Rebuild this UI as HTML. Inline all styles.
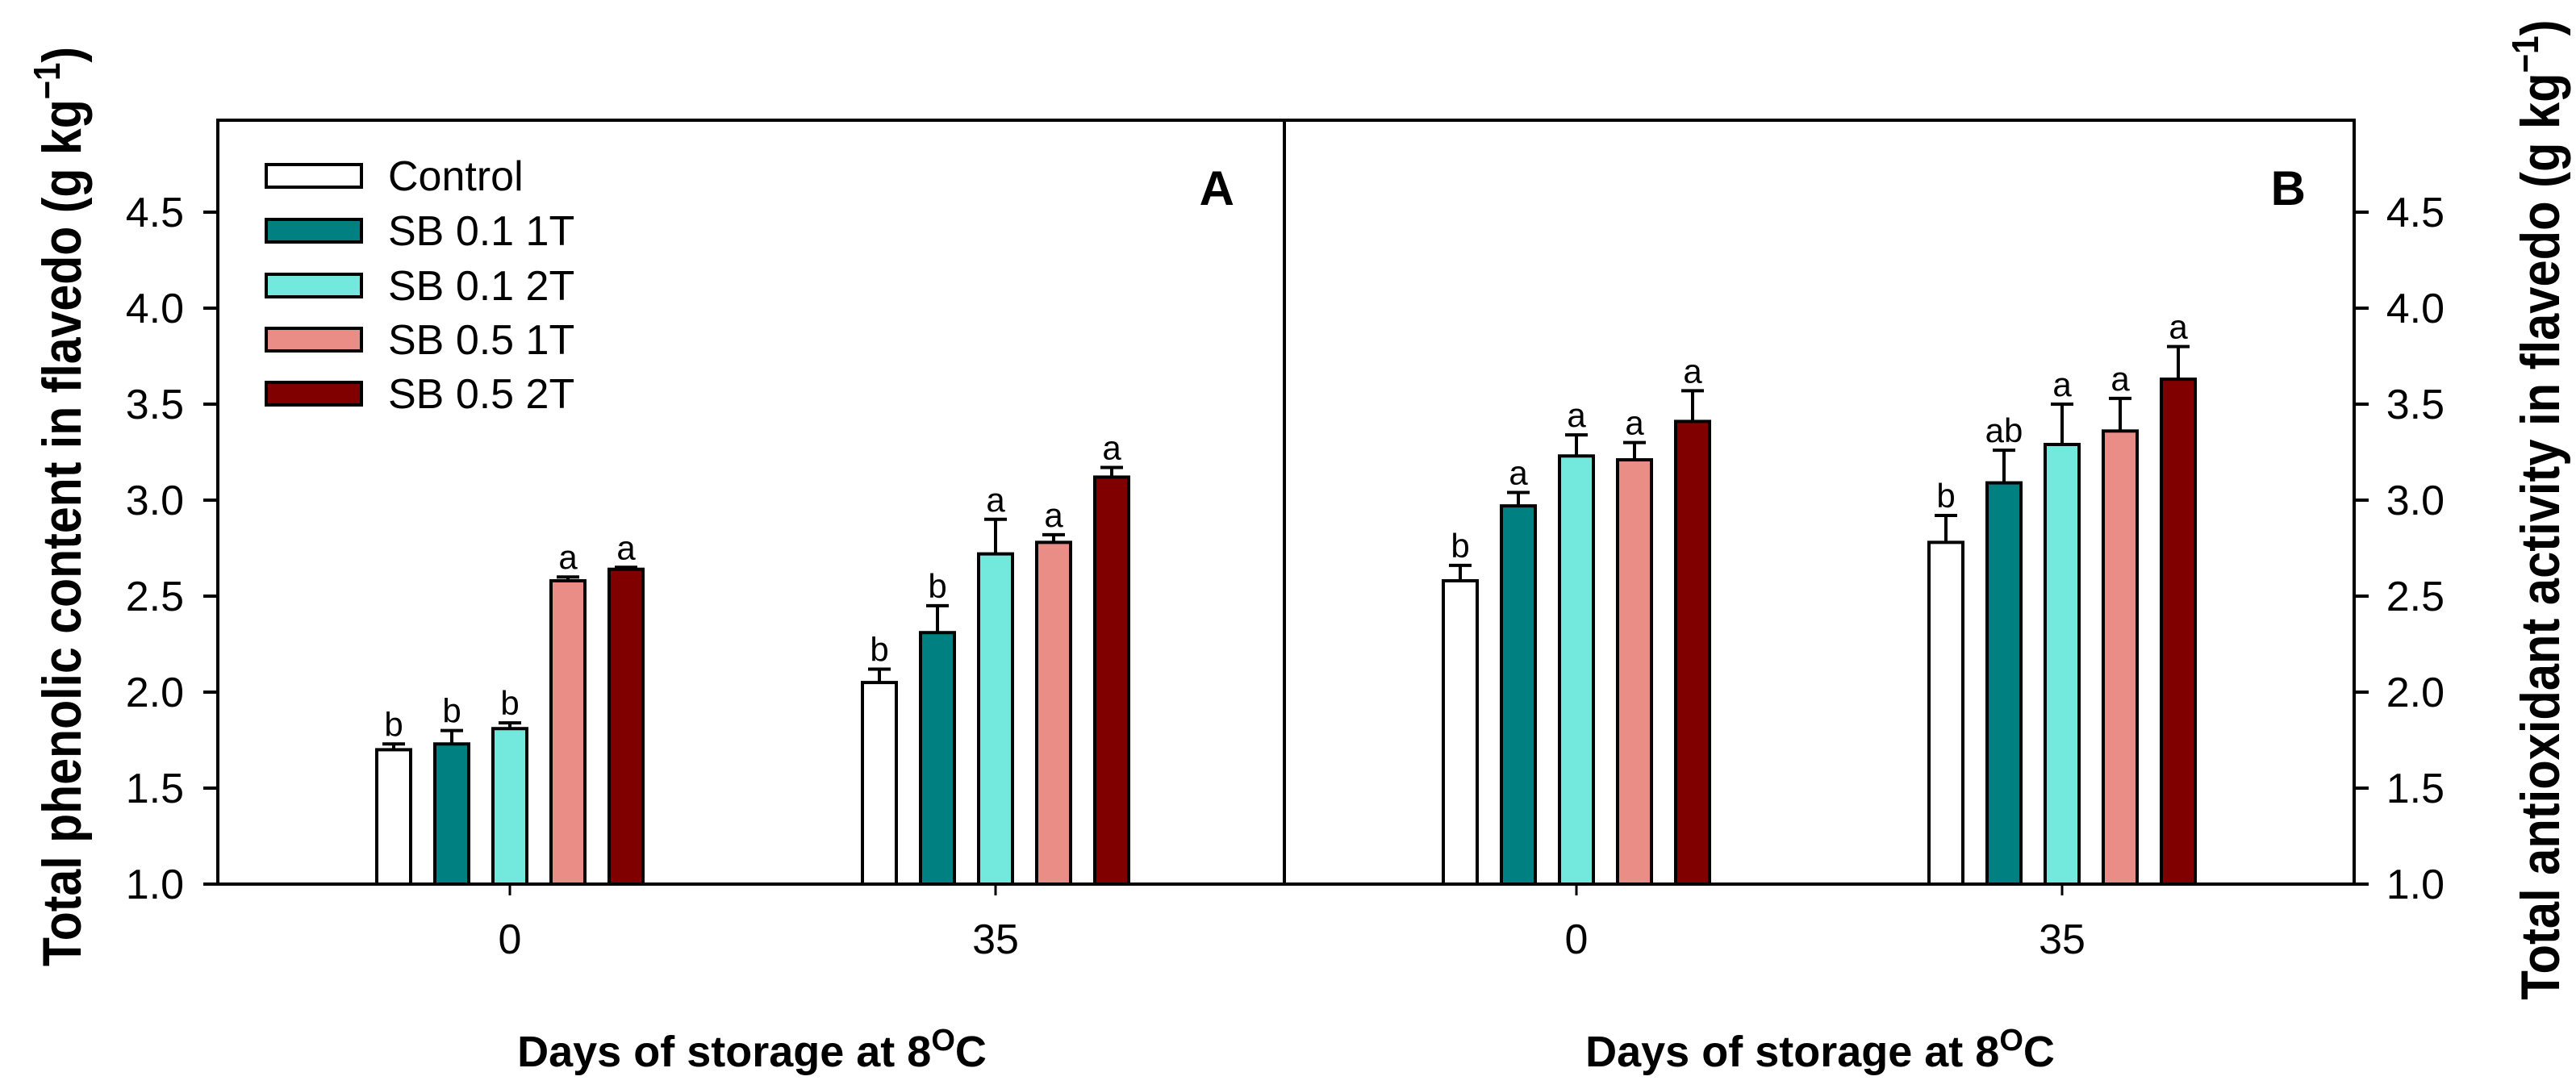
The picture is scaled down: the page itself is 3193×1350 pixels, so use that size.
<!DOCTYPE html>
<html><head><meta charset="utf-8"><style>
html,body{margin:0;padding:0;background:#fff;}
svg{display:block;font-family:"Liberation Sans",Arial,sans-serif;}
</style></head><body>
<svg id="chart" width="3193" height="1350" viewBox="0 0 3193 1350" xmlns="http://www.w3.org/2000/svg">
<rect x="0" y="0" width="3193" height="1350" fill="#fff"/>
<g id="marks"></g>
<rect x="270" y="149" width="2648" height="947" fill="none" stroke="#000" stroke-width="4"/>
<line x1="1592" y1="149" x2="1592" y2="1096" stroke="#000" stroke-width="4"/>
<text x="1530" y="254" font-size="60" font-weight="bold" text-anchor="end">A</text>
<text x="2858" y="254" font-size="60" font-weight="bold" text-anchor="end">B</text>
<g font-size="52">
<g><rect x="330" y="204" width="118" height="28" fill="#fff" stroke="#000" stroke-width="4"/><text x="481" y="236">Control</text></g>
<g><rect x="330" y="272" width="118" height="28" fill="#008080" stroke="#000" stroke-width="4"/><text x="481" y="304">SB 0.1 1T</text></g>
<g><rect x="330" y="340" width="118" height="28" fill="#72E9DC" stroke="#000" stroke-width="4"/><text x="481" y="372">SB 0.1 2T</text></g>
<g><rect x="330" y="407" width="118" height="28" fill="#EA8D87" stroke="#000" stroke-width="4"/><text x="481" y="439">SB 0.5 1T</text></g>
<g><rect x="330" y="474" width="118" height="28" fill="#800000" stroke="#000" stroke-width="4"/><text x="481" y="506">SB 0.5 2T</text></g>
</g>
<text x="932" y="1322" font-size="54" font-weight="bold" text-anchor="middle">Days of storage at 8<tspan dy="-20" font-size="38">O</tspan><tspan dy="20">C</tspan></text>
<text x="2256" y="1322" font-size="54" font-weight="bold" text-anchor="middle">Days of storage at 8<tspan dy="-20" font-size="38">O</tspan><tspan dy="20">C</tspan></text>
<text transform="translate(100,628) rotate(-90)" font-size="68" font-weight="bold" text-anchor="middle" textLength="1140" lengthAdjust="spacingAndGlyphs">Total phenolic content in flavedo (g kg<tspan dy="-26" font-size="46">−1</tspan><tspan dy="26">)</tspan></text>
<text transform="translate(3172,632) rotate(-90)" font-size="68" font-weight="bold" text-anchor="middle" textLength="1215" lengthAdjust="spacingAndGlyphs">Total antioxidant activity in flavedo (g kg<tspan dy="-26" font-size="46">−1</tspan><tspan dy="26">)</tspan></text>
</svg>
<script>
const categories = ["0", "35"];
const yTicks = [1.0, 1.5, 2.0, 2.5, 3.0, 3.5, 4.0, 4.5];
const seriesNames = ["Control", "SB 0.1 1T", "SB 0.1 2T", "SB 0.5 1T", "SB 0.5 2T"];
const colors = ["#ffffff", "#008080", "#72E9DC", "#EA8D87", "#800000"];
const phenolic0 = [1.70, 1.73, 1.81, 2.58, 2.64];
const phenolic35 = [2.05, 2.31, 2.72, 2.78, 3.12];
const phenolicErr0 = [0.03, 0.07, 0.03, 0.02, 0.01];
const phenolicErr35 = [0.07, 0.14, 0.18, 0.04, 0.05];
const phenolicLetters0 = ["b", "b", "b", "a", "a"];
const phenolicLetters35 = ["b", "b", "a", "a", "a"];
const antiox0 = [2.58, 2.97, 3.23, 3.21, 3.41];
const antiox35 = [2.78, 3.09, 3.29, 3.36, 3.63];
const antioxErr0 = [0.08, 0.07, 0.11, 0.09, 0.16];
const antioxErr35 = [0.14, 0.17, 0.21, 0.17, 0.17];
const antioxLetters0 = ["b", "a", "a", "a", "a"];
const antioxLetters35 = ["b", "ab", "a", "a", "a"];

(function(){
const NS = "http://www.w3.org/2000/svg";
const g = document.getElementById("marks");
const yMin = 1, plotBot = 1096, pxPerUnit = 238;
function yScale(v){ return plotBot - (v - yMin) * pxPerUnit; }
function mk(tag, attrs){ const e = document.createElementNS(NS, tag); for (const k in attrs) e.setAttribute(k, attrs[k]); g.appendChild(e); return e; }
const panels = [
  {x0:270, vals:[phenolic0, phenolic35], errs:[phenolicErr0, phenolicErr35], lets:[phenolicLetters0, phenolicLetters35], side:"left", id:"a"},
  {x0:1592, vals:[antiox0, antiox35], errs:[antioxErr0, antioxErr35], lets:[antioxLetters0, antioxLetters35], side:"right", id:"b"}
];
const barW = 42, step = 72, groupOffset = 362, groupGap = 602;
panels.forEach(p => {
  function xCat(i){ return p.x0 + groupOffset + groupGap * i; }
  categories.forEach((c, ci) => {
    const cx = xCat(ci);
    const t = mk("line", {x1:cx, y1:plotBot, x2:cx, y2:plotBot+14, stroke:"#000", "stroke-width":3});
    
    
    const lb = mk("text", {x:cx, y:1182, "font-size":52, "text-anchor":"middle"});
    lb.textContent = c;
    
    
    p.vals[ci].forEach((v, si) => {
      const bc = cx + (si - 2) * step;
      const bx = bc - barW / 2;
      const yv = yScale(v), ye = yScale(v + p.errs[ci][si]);
      const el = mk("line", {x1:bc, y1:yv, x2:bc, y2:ye, stroke:"#000", "stroke-width":4});
      
      
      const cap = mk("line", {x1:bc-14, y1:ye, x2:bc+14, y2:ye, stroke:"#000", "stroke-width":4});
      
      
      const r = mk("rect", {x:bx, y:yv, width:barW, height:plotBot-yv, fill:colors[si], stroke:"#000", "stroke-width":4});
      
      
      const lt = mk("text", {x:bc, y:ye-10, "font-size":42, "text-anchor":"middle"});
      lt.textContent = p.lets[ci][si];
      
      
    });
  });
  yTicks.forEach(v => {
    const y = yScale(v);
    const ax = p.side === "left" ? 270 : 2918;
    const d = p.side === "left" ? -18 : 18;
    const t = mk("line", {x1:ax, y1:y, x2:ax+d, y2:y, stroke:"#000", "stroke-width":4});
    
    
    const lb = mk("text", {x: p.side === "left" ? 228 : 3030, y:y+18, "font-size":52, "text-anchor":"end"});
    lb.textContent = v.toFixed(1);
    
    
  });
});
})();
</script>
</body></html>
